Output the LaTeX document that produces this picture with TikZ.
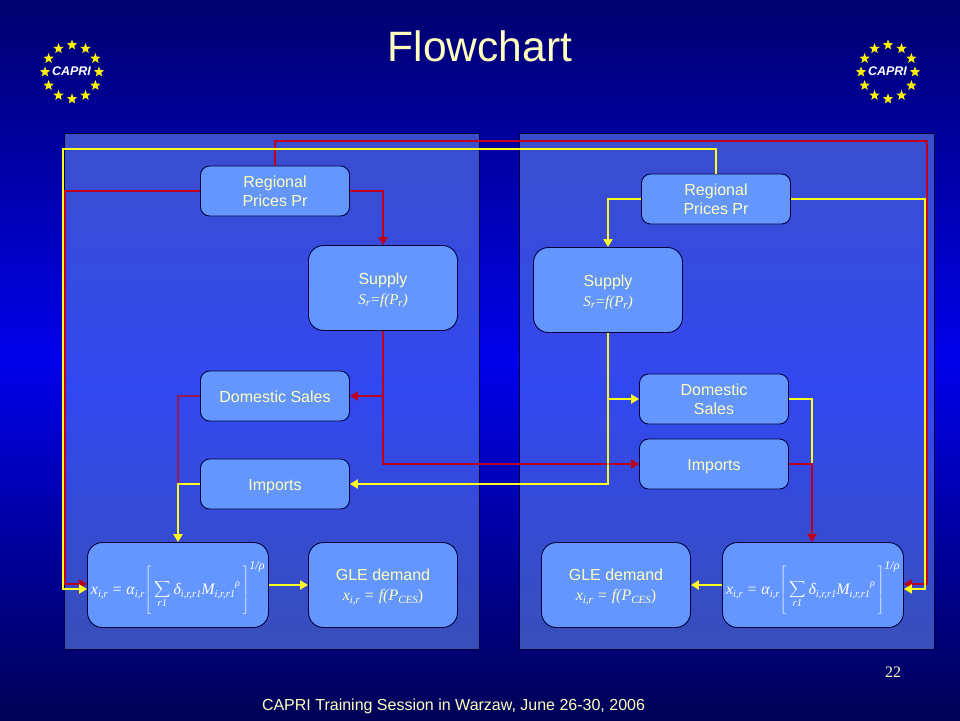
\documentclass[tikz,border=0pt]{standalone}
\usepackage{fontspec}
\setmainfont{Liberation Sans}
\newfontfamily\serifface{Liberation Serif}
\usetikzlibrary{arrows.meta,shapes.geometric}
\definecolor{bgdark}{RGB}{0,0,110}
\definecolor{bgmid}{RGB}{0,0,235}
\definecolor{bgend}{RGB}{0,0,85}
\definecolor{paneltop}{RGB}{58,78,205}
\definecolor{panelmid}{RGB}{50,72,240}
\definecolor{panelend}{RGB}{56,78,185}
\definecolor{boxfill}{RGB}{100,150,255}
\definecolor{edgenavy}{RGB}{0,0,60}
\definecolor{txt}{RGB}{255,255,190}
\definecolor{linered}{RGB}{190,0,30}
\definecolor{linemauve}{RGB}{150,25,90}
\definecolor{lineyellow}{RGB}{255,255,30}
\newcommand{\sbs}[1]{\raisebox{-2.5pt}{\fontsize{11}{11}\selectfont #1}}
\newcommand{\eqsub}[1]{\raisebox{-3pt}{\fontsize{10.5}{11}\selectfont #1}}
\newcommand{\eqn}{\rule{0pt}{38pt}\resizebox{174pt}{!}{\serifface\itshape\fontsize{16}{17}\selectfont
  x\eqsub{i,r} = α\eqsub{i,r}$\left[\rule[-20pt]{0pt}{46pt}\mathop{\scalebox{1.15}{$\displaystyle\sum$}}\limits_{\hbox{\fontsize{10.5}{11}\selectfont r1}}\hbox{δ\eqsub{i,r,r1}M\eqsub{i,r,r1}\raisebox{8pt}{\fontsize{10}{10}\selectfont ρ}}\,\right]^{\hbox{\fontsize{12}{12}\selectfont 1/ρ}}$}}
\newcommand{\supf}{{\serifface\itshape\fontsize{15}{16}\selectfont S\sbs{r}=f(P\sbs{r})}}
\newcommand{\glef}{{\serifface\itshape\fontsize{16}{16}\selectfont x\sbs{i,r} = f(P\sbs{CES}{\upshape )}}}
\newcommand{\lift}[1]{\rule{0pt}{#1}}
\tikzset{
  panel/.style={draw=edgenavy,line width=0.8pt,top color=paneltop,bottom color=panelend,middle color=panelmid},
  flowbox/.style={draw=edgenavy,line width=0.9pt,fill=boxfill,rounded corners=9pt,text=txt,align=center,inner sep=0pt,font=\fontsize{16}{19}\selectfont},
  smallbox/.style={flowbox,minimum width=149pt,minimum height=50pt},
  bigbox/.style={flowbox,rounded corners=15pt,minimum width=149pt,minimum height=85pt},
  eqbox/.style={flowbox,rounded corners=15pt,minimum width=181pt,minimum height=85pt,text=white},
  redline/.style={draw=linered,line width=2pt},
  mauveline/.style={draw=linemauve,line width=2pt},
  yelline/.style={draw=lineyellow,line width=2pt},
  tip/.style={-{Triangle[length=8pt,width=9pt]}},
  euStar/.style={star,star points=5,star point ratio=2.4,fill=yellow,inner sep=0pt,minimum size=11pt},
  logoText/.style={text=white,font=\bfseries\itshape\fontsize{12.5}{13}\selectfont,inner sep=0pt},
}
\begin{document}
\begin{tikzpicture}[x=1pt,y=-1pt]
\useasboundingbox (0,0) rectangle (960,720);
\shade[top color=bgdark,bottom color=bgend,middle color=bgmid] (0,0) rectangle (960,720);
\path[panel] (64.5,133.5) rectangle (479,649);
\path[panel] (519,133.5) rectangle (934,649);
% title and footer
\node (title) at (480,46) [text=txt,font=\fontsize{42.5}{46}\selectfont,inner sep=0pt] {Flowchart};
\node (footer) at (453.5,706) [text=txt,font=\fontsize{16}{18}\selectfont,inner sep=0pt] {CAPRI Training Session in Warzaw, June 26-30, 2006};
\node (pageno) at (893,672) [text=txt,font=\serifface\fontsize{16}{18}\selectfont,inner sep=0pt] {22};
% logos
\foreach \i in {0,30,...,330} {
  \node[euStar] (la\i) at ({72+27*cos(\i)},{72+27*sin(\i)}) {};
  \node[euStar] (lb\i) at ({888+27*cos(\i)},{72+27*sin(\i)}) {};
}
\node[logoText] (capriL) at (71.5,71.5) {CAPRI};
\node[logoText] (capriR) at (887.5,71.5) {CAPRI};
% left panel boxes
\node[smallbox] (regL) at (275,191) {Regional\\Prices Pr};
\node[bigbox] (supL) at (383,288) {\lift{16pt}Supply\\[1pt]\supf};
\node[smallbox] (domL) at (275,396) {\lift{14pt}Domestic Sales};
\node[smallbox] (impL) at (275,484) {\lift{16pt}Imports};
\node[eqbox] (eqL) at (178,585) {\eqn};
\node[bigbox] (gleL) at (383,585) {\lift{16pt}GLE demand\\[1pt]\glef};
% right panel boxes
\node[smallbox] (regR) at (716,199) {Regional\\Prices Pr};
\node[bigbox] (supR) at (608,290) {\lift{16pt}Supply\\[1pt]\supf};
\node[smallbox] (domR) at (714,399) {Domestic\\Sales};
\node[smallbox] (impR) at (714,464) {\lift{16pt}Imports};
\node[eqbox] (eqR) at (813,585) {\eqn};
\node[bigbox] (gleR) at (616,585) {\lift{16pt}GLE demand\\[1pt]\glef};
% red connectors
\draw[redline,tip] (regL.west) -- (65,191) -- (65,584) -- ([yshift=1pt]eqL.west);
\draw[redline,tip] (regL.north) -- (275,141) -- (927,141) -- (927,584) -- ([yshift=1pt]eqR.east);
\draw[redline,tip] (regL.east) -| (supL.north);
\draw[redline,tip] (supL.south) |- (impR.west);
\draw[redline,tip] (383,396) -- (domL.east);
\draw[mauveline] (domL.west) -- (178,396) -- (178,484);
% yellow connectors
\draw[yelline,tip] (regR.north) -- (716,149) -- (63,149) -- (63,589) -- ([yshift=-4pt]eqL.west);
\draw[yelline,tip] (regR.east) -- (925,199) -- (925,589) -- ([yshift=-4pt]eqR.east);
\draw[yelline,tip] (regR.west) -| (supR.north);
\draw[yelline,tip] (supR.south) |- (impL.east);
\draw[yelline,tip] (608,399) -- (domR.west);
\draw[yelline,tip] (impL.west) -| (eqL.north);
\draw[yelline] (domR.east) -- (812,399) -- (812,464);
\draw[yelline,tip] (eqL.east) -- (gleL.west);
\draw[yelline,tip] (eqR.west) -- (gleR.east);
\draw[redline,tip] (impR.east) -| ([xshift=-1pt]eqR.north);
\end{tikzpicture}
\end{document}
